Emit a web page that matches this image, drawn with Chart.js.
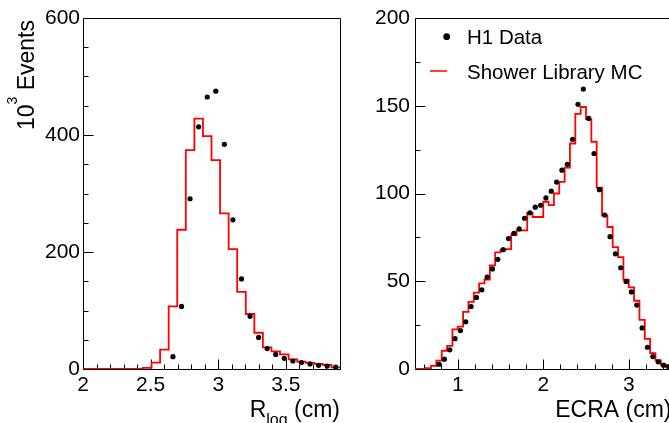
<!DOCTYPE html>
<html>
<head>
<meta charset="utf-8">
<script src="https://cdn.jsdelivr.net/npm/chart.js@4.4.1/dist/chart.umd.min.js"></script>
<style>
  html, body { margin: 0; padding: 0; background: #fff; overflow: hidden; width: 669px; height: 423px; }
  canvas { position: absolute; top: 0; }
  #rlog { left: 0; }
  #ecra { left: 350px; }
</style>
</head>
<body>
<canvas id="rlog" width="350" height="423"></canvas>
<canvas id="ecra" width="330" height="423"></canvas>
<script>
const FONT = '"Liberation Sans", Arial, Helvetica, sans-serif';

// R_log : 30 bins from 2.0 to 3.9 cm (10^3 events)
const rlogRange = [2.0, 3.9];
const rlogMC = [0, 0, 0, 0, 0, 0, 0, 2, 11, 33,
                107, 238, 374, 428, 398, 357, 266, 205, 132, 94,
                62, 37, 30, 25, 16.5, 12.6, 10.3, 8.6, 6.9, 2.9];
const rlogData = [null, null, null, null, null, null, null, null, null, null,
                  21, 107, 291, 414, 465, 475, 384, 255, 154, 90,
                  54, 35, 25, 18.3, 13.7, 10.9, 8.6, 6.3, 5.1, 3.4];
const rlogXTicks = [2, 2.5, 3, 3.5];
const rlogYTicks = [0, 200, 400, 600];

// ECRA : 48 bins from 0.5 to 3.5 cm
const ecraRange = [0.5, 3.5];
const ecraMC = [0, 0, 0.5, 1.8, 4.8, 10.4, 13.2, 22.6, 24.1, 32.5,
                38.2, 43.5, 48.8, 51, 59, 66.4, 68, 68.3, 76.3, 79,
                79, 89, 86.6, 86.6, 95.3, 93.4, 100, 106.6, 114.8, 128.5,
                145.4, 149.3, 142.4, 129.5, 103.4, 87.5, 80.9, 69.4, 63.7, 50.9,
                46.5, 38.9, 28, 17.2, 9, 5.1, 2.3, 1];
const ecraData = [null, null, null, null, 2.7, 5.6, 10.9, 17.3, 21.9, 26.9,
                  35.6, 40.8, 45.1, 52.4, 57, 62.5, 68, 74.3, 77.3, 79.8,
                  85.9, 89, 92.2, 93.3, 97.5, 101.3, 106.5, 113.3, 116.6, 130.9,
                  150.8, 159.5, 142.8, 122.8, 102.2, 87.7, 75.4, 65.6, 57.7, 49.9,
                  43.9, 36.4, 23.4, 12.4, 7.1, 4.1, 2.2, 1.3];
const ecraXTicks = [1, 2, 3];
const ecraYTicks = [0, 50, 100, 150, 200];

const legendLabels = ['H1 Data', 'Shower Library MC'];

// histogram outline: one point per bin low edge, plus the upper edge
function stepPoints(range, vals) {
  const w = (range[1] - range[0]) / vals.length;
  const pts = vals.map((v, i) => ({ x: range[0] + i * w, y: v }));
  pts.push({ x: range[1], y: vals[vals.length - 1] });
  return pts;
}
// data markers at bin centres
function dotPoints(range, vals) {
  const w = (range[1] - range[0]) / vals.length;
  return vals.map((v, i) => v == null ? null : { x: range[0] + (i + 0.5) * w, y: v }).filter(p => p);
}

// ROOT-like frame with inward ticks
const framePlugin = {
  id: 'frame',
  beforeDatasetsDraw(chart, args, o) {
    const { ctx, chartArea: a, scales: { x, y } } = chart;
    ctx.save();
    ctx.strokeStyle = '#000';
    ctx.lineWidth = 1;
    const L = Math.round(a.left) + 0.5, R = Math.round(a.right) + 0.5;
    const T = Math.round(a.top) + 0.5, B = Math.round(a.bottom) + 0.5;
    ctx.beginPath();
    ctx.rect(L, T, R - L, B - T);
    const isMajor = (v, step) => Math.abs(v / step - Math.round(v / step)) < 1e-6;
    for (let k = Math.ceil(x.min / o.xMinor - 1e-6); k * o.xMinor <= x.max + 1e-6; k++) {
      const v = k * o.xMinor;
      const px = Math.round(x.getPixelForValue(v)) + 0.5;
      const len = isMajor(v, o.xMajor) ? 10 : 5;
      ctx.moveTo(px, B); ctx.lineTo(px, B - len);
    }
    for (let k = Math.ceil(y.min / o.yMinor - 1e-6); k * o.yMinor <= y.max + 1e-6; k++) {
      const v = k * o.yMinor;
      const py = Math.round(y.getPixelForValue(v)) + 0.5;
      const len = isMajor(v, o.yMajor) ? 10 : 5;
      ctx.moveTo(L, py); ctx.lineTo(L + len, py);
    }
    ctx.stroke();
    ctx.restore();
  }
};

const rlogTitles = {
  id: 'rlogTitles',
  afterDraw(chart) {
    const { ctx, chartArea: a } = chart;
    ctx.save();
    ctx.fillStyle = '#000';
    ctx.textBaseline = 'alphabetic';
    // y title: 10^3 Events, rotated, right aligned to the top of the axis
    ctx.translate(34, a.top + 2);
    ctx.rotate(-Math.PI / 2);
    ctx.font = '23px ' + FONT;
    const w1 = ctx.measureText('10').width, w3 = ctx.measureText(' Events').width;
    ctx.font = '14px ' + FONT;
    const w2 = ctx.measureText('3').width;
    let p = -(w1 + w2 + w3);
    ctx.font = '23px ' + FONT; ctx.fillText('10', p, 0); p += w1;
    ctx.font = '14px ' + FONT; ctx.fillText('3', p, -17); p += w2;
    ctx.font = '23px ' + FONT; ctx.fillText(' Events', p, 0);
    ctx.setTransform(1, 0, 0, 1, 0, 0);
    // x title: R_log (cm), right aligned to the end of the axis
    ctx.font = '23px ' + FONT;
    const rw = ctx.measureText('R').width, cw = ctx.measureText(' (cm)').width;
    ctx.font = '16px ' + FONT;
    const lw = ctx.measureText('log').width;
    let q = a.right - (rw + lw + cw);
    ctx.font = '23px ' + FONT; ctx.fillText('R', q, 417); q += rw;
    ctx.font = '16px ' + FONT; ctx.fillText('log', q, 424.5); q += lw;
    ctx.font = '23px ' + FONT; ctx.fillText(' (cm)', q, 417);
    ctx.restore();
  }
};

const ecraTitles = {
  id: 'ecraTitles',
  afterDraw(chart) {
    const { ctx, chartArea: a } = chart;
    ctx.save();
    ctx.fillStyle = '#000';
    ctx.font = '23px ' + FONT;
    ctx.textAlign = 'right';
    ctx.fillText('ECRA (cm)', a.right, 416.5);
    // legend
    ctx.textAlign = 'left';
    ctx.font = '20.5px ' + FONT;
    ctx.beginPath();
    ctx.arc(96.7, 36.7, 3.4, 0, Math.PI * 2);
    ctx.fill();
    ctx.fillText(legendLabels[0], 117, 44.3);
    ctx.strokeStyle = '#ff0000';
    ctx.lineWidth = 1.5;
    ctx.beginPath();
    ctx.moveTo(80, 71); ctx.lineTo(97, 71);
    ctx.stroke();
    ctx.fillText(legendLabels[1], 117, 78.5);
    ctx.restore();
  }
};

function makeChart(id, range, mc, data, xTicks, yTicks, yMax, yWidth, padRight, yPad, frameOpts, titles) {
  return new Chart(document.getElementById(id), {
    type: 'scatter',
    data: {
      datasets: [
        {
          label: legendLabels[1],
          type: 'line',
          data: stepPoints(range, mc),
          stepped: 'before',
          borderColor: '#ff0000',
          borderWidth: 1.8,
          pointRadius: 0,
          fill: false,
          order: 2
        },
        {
          label: legendLabels[0],
          data: dotPoints(range, data),
          pointRadius: 2.6,
          pointBackgroundColor: '#000',
          pointBorderWidth: 0,
          borderColor: '#000',
          order: 1
        }
      ]
    },
    options: {
      responsive: false,
      animation: false,
      layout: { padding: { left: 0, top: 18, right: padRight, bottom: 0 } },
      plugins: { legend: { display: false }, tooltip: { enabled: false }, frame: frameOpts },
      scales: {
        x: {
          type: 'linear',
          min: range[0], max: range[1],
          grid: { display: false, drawTicks: false },
          border: { display: false },
          afterBuildTicks: s => { s.ticks = xTicks.map(v => ({ value: v })); },
          afterFit: s => { s.height = 54; },
          ticks: {
            color: '#000', font: { family: FONT, size: 21 }, padding: 4, maxRotation: 0, autoSkip: false,
            callback: v => String(+v.toFixed(2))
          }
        },
        y: {
          min: 0, max: yMax,
          grid: { display: false, drawTicks: false },
          border: { display: false },
          afterBuildTicks: s => { s.ticks = yTicks.map(v => ({ value: v })); },
          afterFit: s => { s.width = yWidth; },
          ticks: { color: '#000', font: { family: FONT, size: 21 }, padding: yPad }
        }
      }
    },
    plugins: [framePlugin, titles]
  });
}

makeChart('rlog', rlogRange, rlogMC, rlogData, rlogXTicks, rlogYTicks, 600, 83, 10, 3,
  { xMinor: 0.1, xMajor: 0.5, yMinor: 50, yMajor: 200 }, rlogTitles);
makeChart('ecra', ecraRange, ecraMC, ecraData, ecraXTicks, ecraYTicks, 200, 65, 8.5, 5,
  { xMinor: 0.2, xMajor: 1, yMinor: 25, yMajor: 50 }, ecraTitles);
</script>
</body>
</html>
